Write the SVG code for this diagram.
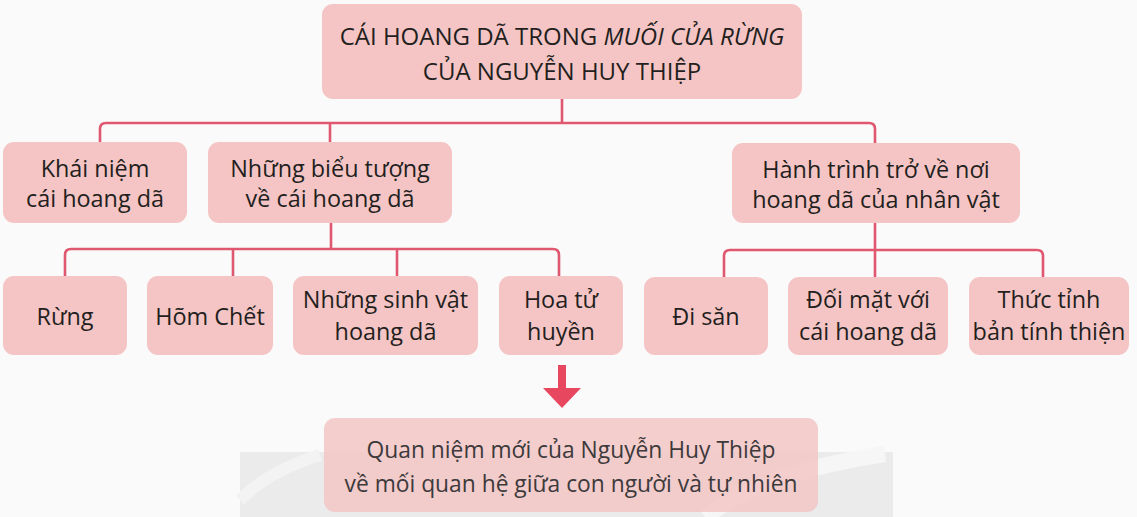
<svg xmlns="http://www.w3.org/2000/svg" width="1137" height="517" viewBox="0 0 1137 517">
  <style>
    .box { fill: #f5c5c5; }
    .t { font-family: "Open Sans", "Noto Sans", sans-serif; font-size: 23.4px; fill: #231f20; text-anchor: middle; }
    .title { font-size: 24px; }
    .conn { fill: none; stroke: #e05870; stroke-width: 2.6; stroke-linejoin: round; }
    .bt { fill: #3d3a3b; font-size: 22.8px; }
  </style>
  <rect x="0" y="0" width="1137" height="517" fill="#fafafa"/>
  <g id="watermark">
    <rect x="240" y="452" width="653" height="65" fill="#ebebeb"/>
    <path d="M 705 517 Q 765 472 885 454" fill="none" stroke="#f6f6f6" stroke-width="16"/>
    <path d="M 240 500 Q 270 470 320 455" fill="none" stroke="#f3f3f3" stroke-width="12"/>
  </g>
  <g id="connectors">
    <path class="conn" d="M 562 99 V 123"/>
    <path class="conn" d="M 100 142 V 129 Q 100 123 106 123 H 869 Q 875 123 875 129 V 143"/>
    <path class="conn" d="M 330 123 V 142"/>
    <path class="conn" d="M 331 223 V 249"/>
    <path class="conn" d="M 65 276 V 255 Q 65 249 71 249 H 553 Q 559 249 559 255 V 276"/>
    <path class="conn" d="M 233 249 V 276"/>
    <path class="conn" d="M 397 249 V 276"/>
    <path class="conn" d="M 875 223 V 277"/>
    <path class="conn" d="M 724 277 V 256 Q 724 250 730 250 H 1037 Q 1043 250 1043 256 V 277"/>
    <path d="M 558 365 H 566 V 388 H 581 L 562 408 L 543 388 H 558 Z" fill="#e8485f"/>
  </g>
  <g id="root">
    <rect class="box" x="322" y="4" width="480" height="95" rx="11"/>
    <text class="t title" x="562" y="45">CÁI HOANG DÃ TRONG <tspan font-style="italic">MUỐI CỦA RỪNG</tspan></text>
    <text class="t title" x="562" y="80">CỦA NGUYỄN HUY THIỆP</text>
  </g>
  <g id="khai-niem">
    <rect class="box" x="3" y="142" width="184" height="81" rx="11"/>
    <text class="t" x="95" y="177">Khái niệm</text>
    <text class="t" x="95" y="207">cái hoang dã</text>
  </g>
  <g id="bieu-tuong">
    <rect class="box" x="208" y="142" width="244" height="81" rx="11"/>
    <text class="t" x="330" y="177">Những biểu tượng</text>
    <text class="t" x="330" y="207">về cái hoang dã</text>
  </g>
  <g id="hanh-trinh">
    <rect class="box" x="732" y="143" width="288" height="80" rx="11"/>
    <text class="t" x="876" y="178">Hành trình trở về nơi</text>
    <text class="t" x="876" y="208">hoang dã của nhân vật</text>
  </g>
  <g id="rung">
    <rect class="box" x="3" y="276" width="124" height="79" rx="11"/>
    <text class="t" x="65" y="325">Rừng</text>
  </g>
  <g id="hom-chet">
    <rect class="box" x="147" y="276" width="126" height="79" rx="11"/>
    <text class="t" x="210" y="325">Hõm Chết</text>
  </g>
  <g id="sinh-vat">
    <rect class="box" x="293" y="276" width="185" height="79" rx="11"/>
    <text class="t" x="385.5" y="308">Những sinh vật</text>
    <text class="t" x="385.5" y="340">hoang dã</text>
  </g>
  <g id="hoa-tu-huyen">
    <rect class="box" x="499" y="276" width="124" height="79" rx="11"/>
    <text class="t" x="561" y="308">Hoa tử</text>
    <text class="t" x="561" y="340">huyền</text>
  </g>
  <g id="di-san">
    <rect class="box" x="644" y="277" width="124" height="78" rx="11"/>
    <text class="t" x="706" y="325">Đi săn</text>
  </g>
  <g id="doi-mat">
    <rect class="box" x="788" y="277" width="160" height="78" rx="11"/>
    <text class="t" x="868" y="308">Đối mặt với</text>
    <text class="t" x="868" y="340">cái hoang dã</text>
  </g>
  <g id="thuc-tinh">
    <rect class="box" x="969" y="277" width="160" height="78" rx="11"/>
    <text class="t" x="1049" y="308">Thức tỉnh</text>
    <text class="t" x="1049" y="340">bản tính thiện</text>
  </g>
  <g id="quan-niem">
    <rect x="324" y="418" width="494" height="94" rx="11" fill="#f3c3c3" fill-opacity="0.82"/>
    <text class="t bt" x="571" y="458">Quan niệm mới của Nguyễn Huy Thiệp</text>
    <text class="t bt" x="571" y="492">về mối quan hệ giữa con người và tự nhiên</text>
  </g>
</svg>
